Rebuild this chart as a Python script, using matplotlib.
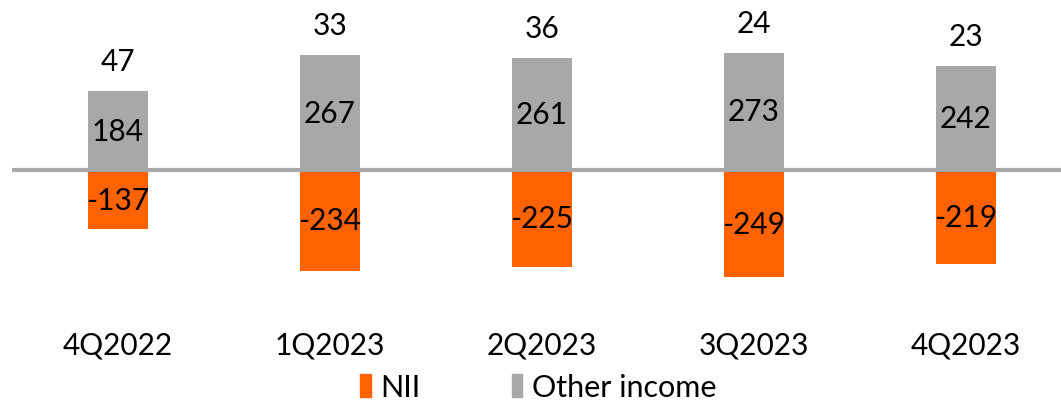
import matplotlib.pyplot as plt
from matplotlib.patches import Patch

quarters = ['4Q2022', '1Q2023', '2Q2023', '3Q2023', '4Q2023']
nii = [-137, -234, -225, -249, -219]
other_income = [184, 267, 261, 273, 242]
totals = [47, 33, 36, 24, 23]

orange = '#FF6200'
grey = '#A8A8A8'
ftsize = 21.5

plt.rcParams['font.family'] = ['Lato', 'DejaVu Sans']

fig = plt.figure(figsize=(10.61, 4.06), dpi=100)
ax = fig.add_axes([12/1061, 106/406, 1060/1061, 300/406])

x = list(range(len(quarters)))
width = 0.283
ax.bar(x, other_income, width=width, color=grey, zorder=2)
ax.bar(x, nii, width=width, color=orange, zorder=2)
ax.axhline(0, color=grey, lw=3, zorder=3)

for i in x:
    ax.text(i, other_income[i]/2, str(other_income[i]), ha='center', va='center',
            fontsize=ftsize, zorder=4)
    ax.text(i, nii[i]/2, str(nii[i]), ha='center', va='center',
            fontsize=ftsize, zorder=4)
    ax.annotate(str(totals[i]), (i, other_income[i]), xytext=(0, 15),
                textcoords='offset points', ha='center', va='baseline',
                fontsize=ftsize)

ax.set_xlim(-0.5, 4.5)
ax.set_ylim(-300, 398)
ax.set_xticks(x)
ax.set_xticklabels(quarters, fontsize=ftsize)
ax.tick_params(axis='x', length=0, pad=23)
ax.set_yticks([])
for s in ax.spines.values():
    s.set_visible(False)

handles = [Patch(color=orange, label='NII'), Patch(color=grey, label='Other income')]
fig.legend(handles=handles, loc='center', bbox_to_anchor=(538/1061, 18/406), ncol=2,
           frameon=False, fontsize=ftsize + 0.5, handlelength=0.35, handleheight=0.75,
           handletextpad=0.3, columnspacing=3.0)

fig.savefig('out.png', dpi=100)
